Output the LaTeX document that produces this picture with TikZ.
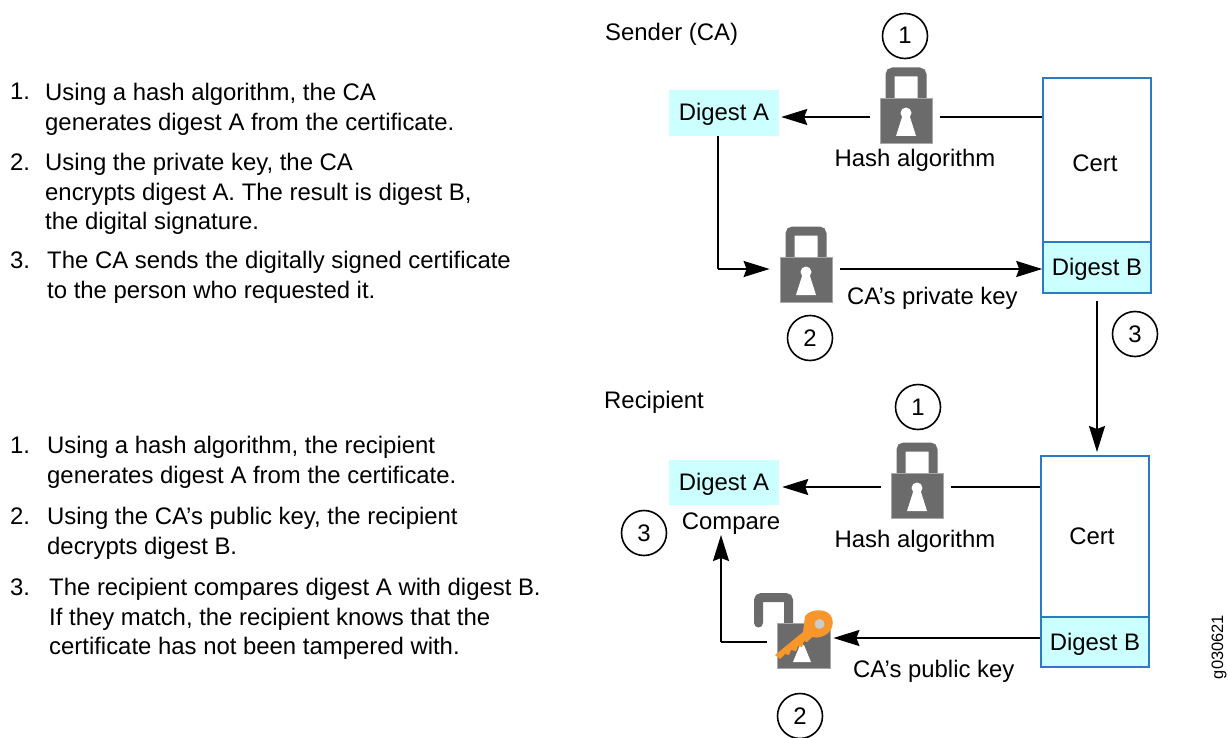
\documentclass[tikz,border=0pt]{standalone}
\usepackage{fontspec}
\setmainfont{Liberation Sans}
\usetikzlibrary{arrows.meta,calc}
\definecolor{lockgray}{HTML}{6B6B6B}
\definecolor{lockedge}{HTML}{A8A8A8}
\definecolor{digestfill}{HTML}{CCFFFF}
\definecolor{certblue}{HTML}{2B7BC4}
\definecolor{keyorange}{HTML}{F7962B}
\tikzset{
  x=1pt,y=-1pt,
  txt/.style={inner sep=0pt,anchor=base west,align=left,font=\fontsize{23.9}{29.6}\selectfont},
  lbl/.style={inner sep=0pt,text height=16pt,text depth=0pt,font=\fontsize{23.9}{28}\selectfont},
  digest/.style={fill=digestfill,inner sep=0pt,text height=16pt,text depth=0pt,font=\fontsize{23.9}{28}\selectfont},
  certbox/.style={draw=certblue,line width=1.6pt,inner sep=0pt,text height=16pt,text depth=0pt,font=\fontsize{23.9}{28}\selectfont},
  num/.style={draw=black,circle,line width=1.6pt,minimum size=45pt,inner sep=0pt,text height=16pt,text depth=0pt,font=\fontsize{23.9}{28}\selectfont},
  lockbody/.style={draw=lockedge,line width=0.8pt,fill=lockgray,minimum width=52pt,minimum height=45pt,inner sep=0pt},
  conn/.style={line width=1.9pt,draw=black},
  tip/.style={-{Stealth[length=26pt,width=16pt,inset=3pt]}},
}
\newcommand{\closedlock}[3]{% name, centre x, body top y
  \draw[line width=9pt,draw=lockgray,rounded corners=3pt] (#2-16,#3+2) -- (#2-16,#3-26) -- (#2+16,#3-26) -- (#2+16,#3+2);
  \node[lockbody] (#1) at (#2,#3+22.5) {};
  \fill[white] (#2,#3+15) circle (5.5pt);
  \fill[white] (#2-3,#3+16) -- (#2+3,#3+16) -- (#2+10,#3+38) -- (#2-10,#3+38) -- cycle;
}
\begin{document}
\begin{tikzpicture}
\useasboundingbox (0,0) rectangle (1228,738);
% left text, upper list
\node[txt] (a1n) at (10,100) {1.};
\node[txt,anchor=north west] (a1) at (45,83) {Using a hash algorithm, the CA\\generates digest A from the certificate.};
\node[txt] (a2n) at (10,170.5) {2.};
\node[txt,anchor=north west] (a2) at (45,153) {Using the private key, the CA\\encrypts digest A. The result is digest B,\\the digital signature.};
\node[txt] (a3n) at (10,268) {3.};
\node[txt,anchor=north west] (a3) at (47,251) {The CA sends the digitally signed certificate\\to the person who requested it.};
% left text, lower list
\node[txt] (b1n) at (10,453.5) {1.};
\node[txt,anchor=north west] (b1) at (47,436) {Using a hash algorithm, the recipient\\generates digest A from the certificate.};
\node[txt] (b2n) at (10,524.5) {2.};
\node[txt,anchor=north west] (b2) at (47,507) {Using the CA’s public key, the recipient\\decrypts digest B.};
\node[txt] (b3n) at (10,595.5) {3.};
\node[txt,anchor=north west] (b3) at (49,578) {The recipient compares digest A with digest B.\\If they match, the recipient knows that the\\certificate has not been tampered with.};
% headings
\node[lbl,anchor=west] (sender) at (605,33) {Sender (CA)};
\node[lbl,anchor=west] (recip) at (604,400) {Recipient};
% boxes: sender
\node[digest,minimum width=110pt,minimum height=46pt] (da1) at (724,113) {Digest A};
\node[certbox,minimum width=108pt,minimum height=164pt,fill=white] (cert1) at (1097,160) {};
\node[lbl] (cert1t) at (1095,164) {Cert};
\node[certbox,fill=digestfill,minimum width=108pt,minimum height=51pt] (db1) at (1097,267.5) {Digest B};
% boxes: recipient
\node[digest,minimum width=110pt,minimum height=45pt] (da2) at (724,482.5) {Digest A};
\node[certbox,minimum width=108pt,minimum height=161pt,fill=white] (cert2) at (1095,536.5) {};
\node[lbl] (cert2t) at (1092,536) {Cert};
\node[certbox,fill=digestfill,minimum width=108pt,minimum height=50pt] (db2) at (1095,642) {Digest B};
% locks
\closedlock{l1}{906}{98}
\closedlock{l2}{806}{257}
\closedlock{l3}{917}{473}
% open lock with key
\draw[line width=9pt,draw=lockgray,rounded corners=3pt,line cap=round] (758.5,623) -- (758.5,597.5) -- (788.5,597.5) -- (788.5,626);
\node[lockbody,minimum width=53pt] (l4) at (803.5,645.5) {};
\fill[white] (793,662) -- (800,645) -- (804,645) -- (811,662) -- cycle;
\fill[keyorange] (775,655) -- (803,632) -- (805,616)
  .. controls (810,609) and (828,607) .. (832,618)
  .. controls (836,630) and (824,640) .. (812,637)
  -- (807,642) -- (804,641) -- (802,647) -- (798,646) -- (796,651) -- (791,650) -- (789,655) -- (785,654) -- (780,659) -- cycle;
\fill[lockedge!60!white] (819.5,624) circle (5pt);
% numbered circles
\node[num] (c1) at (905,36) {1};
\node[num] (c2) at (810,338) {2};
\node[num] (c3) at (1135,334) {3};
\node[num] (d1) at (918,407) {1};
\node[num] (d3) at (644,533) {3};
\node[num] (d2) at (800,716) {2};
% labels
\node[lbl] (h1) at (915,159) {Hash algorithm};
\node[lbl,anchor=west] (pk) at (847,296) {CA’s private key};
\node[lbl] (h2) at (915,539) {Hash algorithm};
\node[lbl,anchor=west] (pub) at (853,669) {CA’s public key};
\node[lbl] (cmp) at (731,521) {Compare};
\node[inner sep=0pt,rotate=90,font=\fontsize{16.5}{20}\selectfont] (gid) at (1219,647) {g030621};
% connector rows and free ends
\coordinate (r1) at (0,117);
\coordinate (r2) at (718,269);
\coordinate (r3) at (0,487);
\coordinate (r4) at (0,638);
\coordinate (r5) at (721,642);
\coordinate (e1) at (1097,301);
\coordinate (e2) at (1097,452);
\coordinate (e3) at (721,535);
% connectors: sender
\draw[conn] (cert1.west |- r1) -- ($(l1.east |- r1)+(8,0)$);
\draw[conn,tip] ($(l1.west |- r1)+(-10,0)$) -- ($(da1.east |- r1)+(2,0)$);
\draw[conn] (r2 |- da1.south) -- (r2);
\draw[conn,tip] (r2) -- ($(l2.west |- r2)+(-10,0)$);
\draw[conn,tip] ($(l2.east |- r2)+(8,0)$) -- (db1.west |- r2);
\draw[conn,tip] (e1) -- (e2);
% connectors: recipient
\draw[conn] (cert2.west |- r3) -- ($(l3.east |- r3)+(8,0)$);
\draw[conn,tip] ($(l3.west |- r3)+(-10,0)$) -- ($(da2.east |- r3)+(3,0)$);
\draw[conn,tip] (db2.west |- r4) -- ($(l4.east |- r4)+(3,0)$);
\draw[conn] ($(l4.west |- r5)+(-10,0)$) -- (r5);
\draw[conn,tip] (r5) -- (e3);
\end{tikzpicture}
\end{document}
